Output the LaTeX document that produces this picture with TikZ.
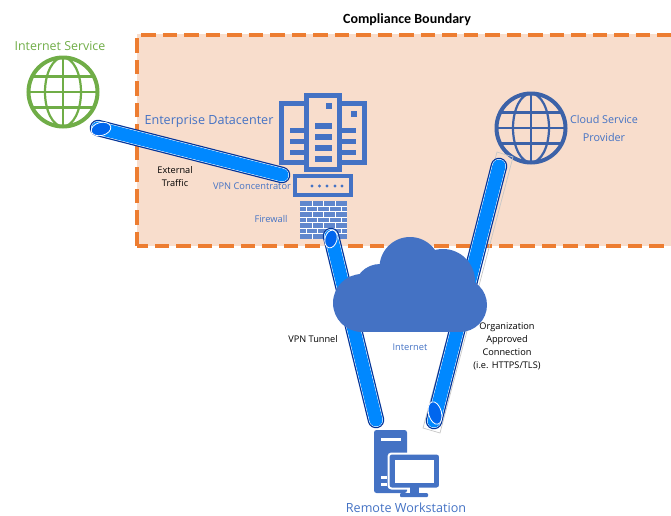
\documentclass[tikz,border=0pt]{standalone}
\usepackage{fontspec}
\setmainfont{Open Sans}
\newfontfamily\labelfont{Carlito}
\usetikzlibrary{shapes.geometric}
\definecolor{peach}{HTML}{F8DDCC}
\definecolor{dashorange}{HTML}{ED7D31}
\definecolor{iconblue}{HTML}{4472C4}
\definecolor{globeblue}{HTML}{3C62A8}
\definecolor{globegreen}{HTML}{70AD47}
\definecolor{tubedark}{HTML}{003399}
\definecolor{tubeblue}{HTML}{0088FF}
\definecolor{ovalblue}{HTML}{0066EE}
\tikzset{
	blacktext/.style={font=\fontsize{9.2}{13}\selectfont, align=center, text=black},
	bluetext/.style={font=\fontsize{9.3}{13}\selectfont, align=center, text=iconblue},
	capoval/.style={ellipse, draw=white, line width=0.8pt, fill=ovalblue, inner sep=0pt},
	iconline/.style={draw=iconblue, line width=4.5pt},
	iconbar/.style={fill=iconblue},
}
\def\globe(#1)#2{
	\draw[#2, line width=4pt] (#1) circle (34.5);
	\draw[#2, line width=2.2pt] (#1) ellipse (18 and 34.5);
	\draw[#2, line width=2.2pt] ([yshift=-35pt]#1) -- ([yshift=35pt]#1);
	\draw[#2, line width=2.2pt] ([xshift=-35pt]#1) -- ([xshift=35pt]#1);
	\draw[#2, line width=2.2pt] ([xshift=-31pt,yshift=-15.5pt]#1) -- ([xshift=31pt,yshift=-15.5pt]#1);
	\draw[#2, line width=2.2pt] ([xshift=-31pt,yshift=15.5pt]#1) -- ([xshift=31pt,yshift=15.5pt]#1);
}
\def\tube(#1)(#2){
	\draw[tubedark, line width=16.5pt, line cap=round] (#1) -- (#2);
	\draw[white, line width=14pt, line cap=round] (#1) -- (#2);
	\draw[tubeblue, line width=13pt, line cap=round] (#1) -- (#2);
}

\begin{document}
\begin{tikzpicture}[x=1pt, y=-1pt]
	\useasboundingbox (0, 0) rectangle (671, 515);
	
	% boundary
	\fill[peach] (137, 34) rectangle (673, 246);
	\draw[dashorange, line width=3.6pt, dash pattern=on 14.5pt off 7pt] (137, 246) -- (137, 35) -- (673, 35) -- (673, 246) -- cycle;
	
	\node[font=\fontsize{14}{16}\selectfont\labelfont\bfseries] (boundaryLabel) at (407, 20) {Compliance Boundary};
	
	% globes
	\coordinate (internetGlobe) at (63, 92);
	\coordinate (cloudGlobe) at (531, 128);
	\globe(internetGlobe){globegreen}
	\globe(cloudGlobe){globeblue}
	\node[font=\fontsize{12.4}{13}\selectfont, text=globegreen] (internetLabel) at (60, 46) {Internet Service};
	\node[font=\fontsize{10.8}{18}\selectfont, text=iconblue, align=center] (cloudLabel) at (604, 128) {Cloud Service\\Provider};
	\node[font=\fontsize{12.6}{13}\selectfont, text=iconblue] (dcLabel) at (209, 121) {Enterprise Datacenter};
	
	% servers
	\draw[iconline] (281.5, 103.5) rectangle (364.5, 162.5);
	\draw[iconline, fill=peach] (306.5, 95.5) rectangle (339.5, 169.5);
	\fill[iconbar] (326, 103) rectangle (332, 109);
	\fill[iconbar] (351, 111) rectangle (357, 117);
	\foreach \y in {123, 134, 145, 156} \fill[iconbar] (315, \y) rectangle (332, \y+6);
	\foreach \y in {128, 139, 150} {
		\fill[iconbar] (290, \y) rectangle (304, \y+5);
		\fill[iconbar] (342, \y) rectangle (356, \y+5);
	}
	
	% vpn box
	\draw[iconblue, line width=4pt] (295, 176) rectangle (351, 195);
	\foreach \x in {312, 319.5, 327, 335, 342} \fill[iconblue] (\x, 186) circle (1.7);
	
	% firewall
	\fill[iconblue!85] (300, 201) rectangle (347, 239);
	\foreach \y in {1, ..., 6} \draw[white, line width=1pt] (300, 201+\y*5.43) -- (347, 201+\y*5.43);
	\foreach \r in {0, 2, 4, 6} \foreach \x in {312, 323.5, 335} \draw[white, line width=1pt] (\x, 201+\r*5.43) -- (\x, 201+\r*5.43+5.43);
	\foreach \r in {1, 3, 5} \foreach \x in {306, 317.5, 329, 341} \draw[white, line width=1pt] (\x, 201+\r*5.43) -- (\x, 201+\r*5.43+5.43);
	
	\node[bluetext] (vpnLabel) at (252, 186) {VPN Concentrator};
	\node[bluetext] (fwLabel) at (271, 219) {Firewall};
	
	% tunnels
	\coordinate (extStart) at (98, 128);
	\coordinate (extEnd) at (282, 175);
	\coordinate (vpnTop) at (331, 236);
	\coordinate (vpnBottom) at (376, 420);
	\coordinate (tlsTop) at (499, 166);
	\coordinate (tlsBottom) at (434, 421);
	
	\draw[black!22, line width=0.7pt] (497, 152) -- (513, 157) -- (440, 433) -- (423, 428) -- cycle;
	\tube(extStart)(extEnd)
	\tube(vpnTop)(vpnBottom)
	\tube(tlsTop)(tlsBottom)
	
	\node[capoval, minimum width=20pt, minimum height=13pt, rotate=14] (extCap) at (101, 129) {};
	\node[capoval, minimum width=18pt, minimum height=12pt, rotate=76] (vpnCap) at (331, 239) {};
	\node[capoval, minimum width=23pt, minimum height=13pt, rotate=105] (tlsCap) at (435, 413) {};
	
	% cloud
	\fill[iconblue] (410, 267.5) circle (30.5);
	\fill[iconblue] (443, 281) circle (32);
	\fill[iconblue] (460, 305) circle (27);
	\fill[iconblue] (362, 303) circle (29);
	\fill[iconblue] (380, 290) circle (26);
	\fill[iconblue] (362, 285) rectangle (460, 332);
	
	\node[bluetext] (netLabel) at (410, 347) {Internet};
	\node[blacktext] (tunnelLabel) at (313, 339) {VPN Tunnel};
	\node[blacktext] (tlsLabel) at (507, 346) {Organization\\Approved\\Connection\\(i.e. HTTPS/TLS)};
	\node[blacktext] (extLabel) at (175, 177) {External\\Traffic};
	
	% workstation
	\fill[iconblue, rounded corners=2.5pt] (374, 430) rectangle (407, 493);
	\fill[white] (381, 438) rectangle (401, 441);
	\fill[white] (381, 476) rectangle (387, 478.5);
	\fill[white] (381, 483) rectangle (387, 485.5);
	\draw[white, line width=2pt, rounded corners=3pt, fill=iconblue] (388.5, 453.5) rectangle (440, 488.5);
	\fill[white] (394.5, 460) rectangle (434, 483);
	\fill[iconblue] (410, 486) rectangle (419, 494);
	\fill[iconblue, rounded corners=1pt] (400, 493) rectangle (428, 497);
	\node[font=\fontsize{12.6}{13}\selectfont, text=iconblue] (remoteLabel) at (406, 508) {Remote Workstation};
\end{tikzpicture}
\end{document}
